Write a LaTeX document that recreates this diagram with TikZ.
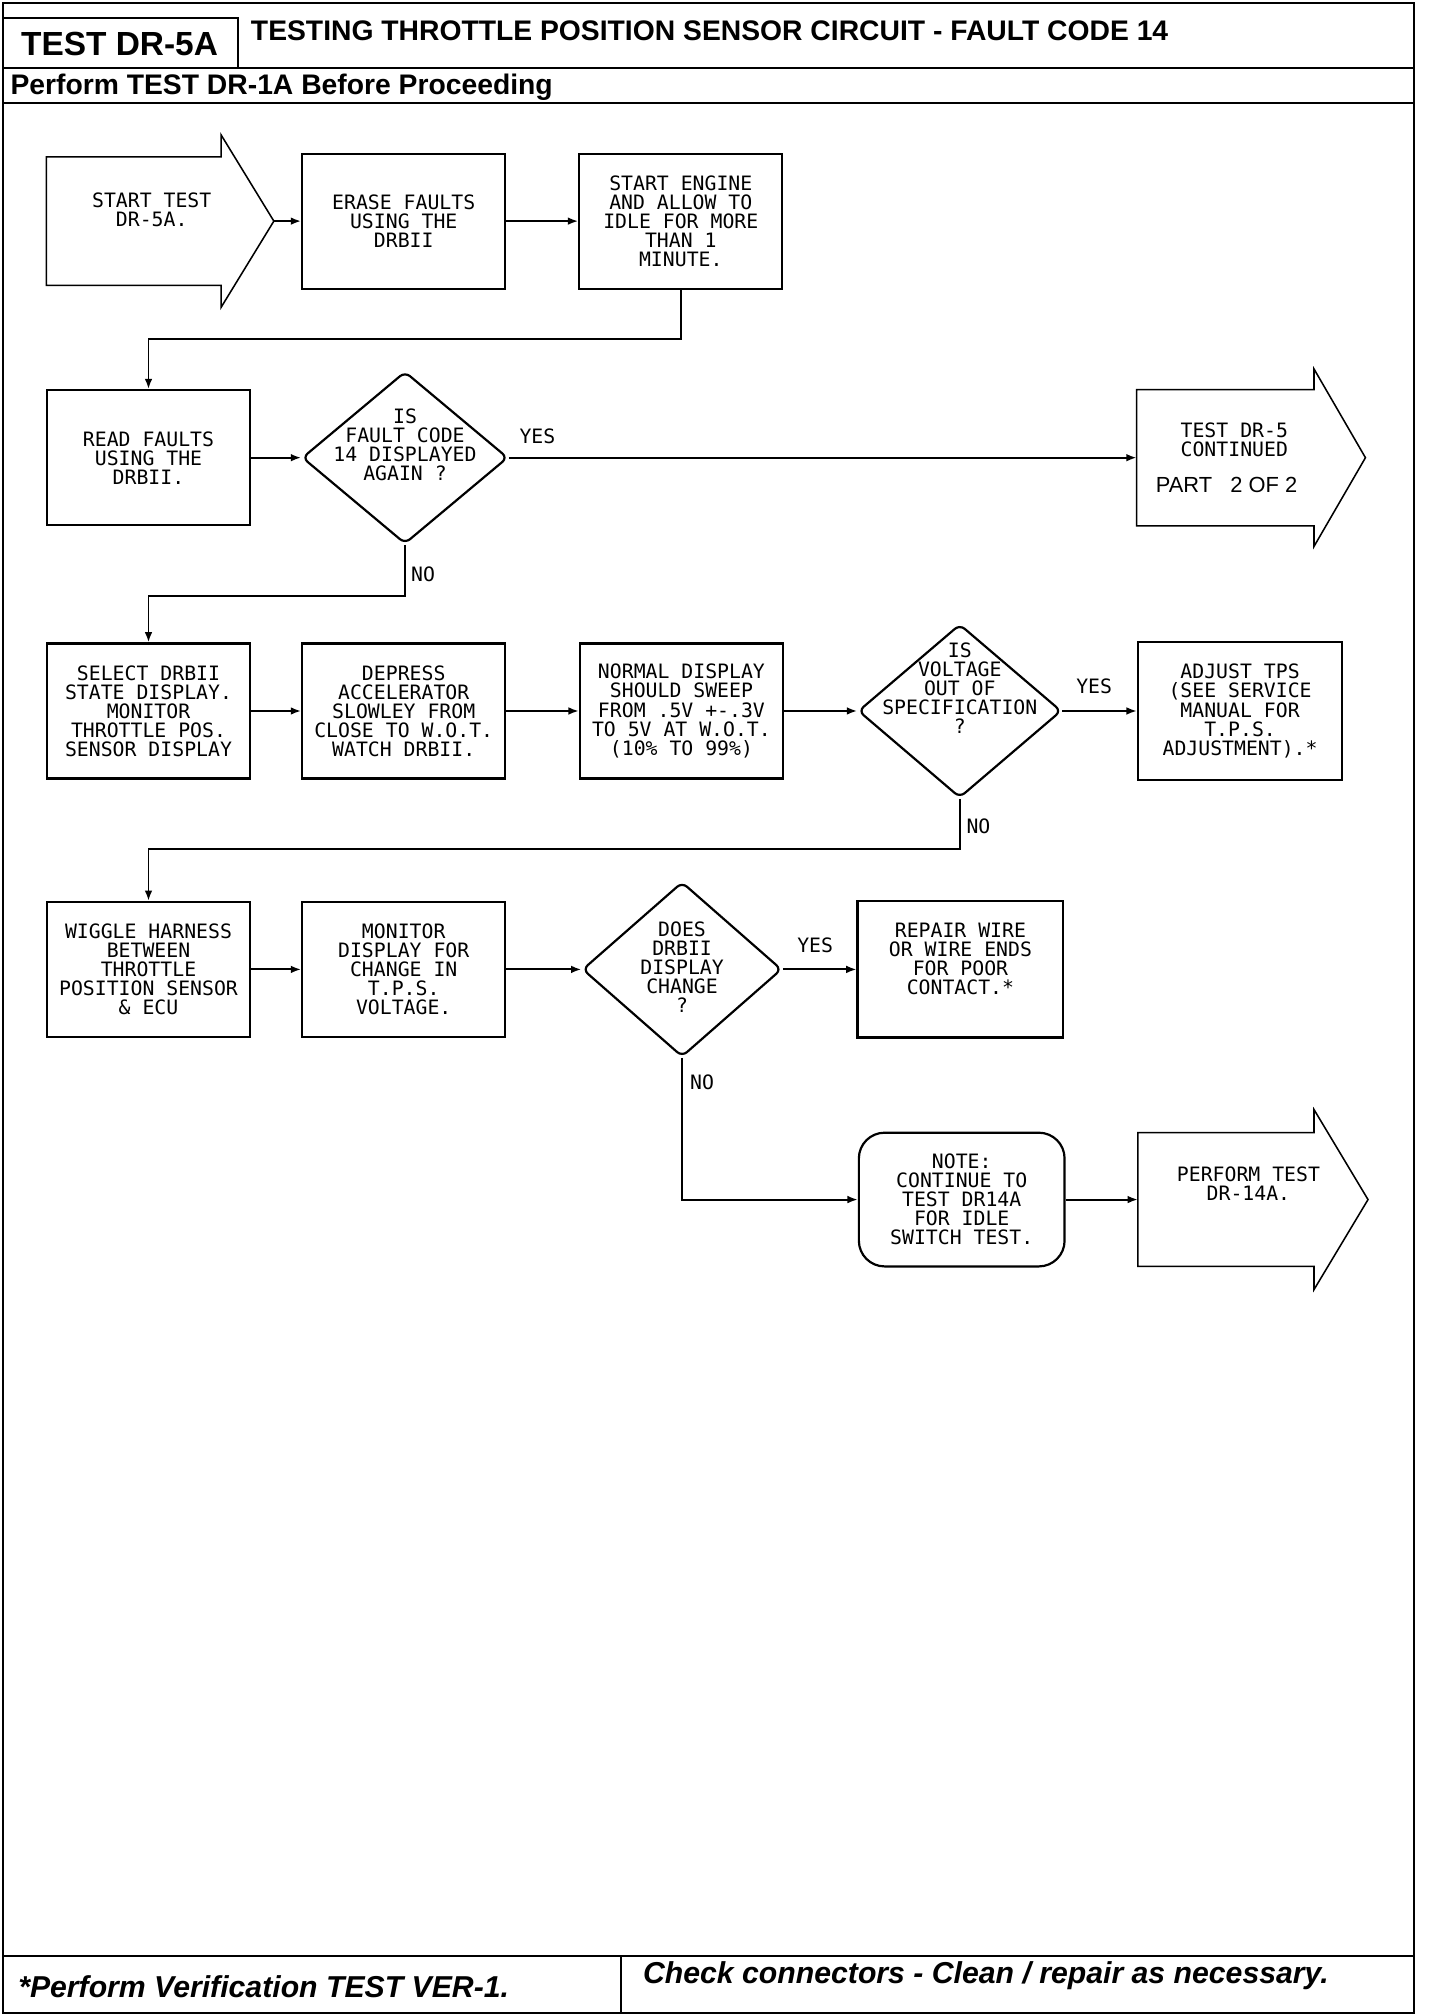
\documentclass[tikz,border=0pt]{standalone}
\usepackage{fontspec}
\usepackage{tikz}
\usetikzlibrary{shapes.geometric,arrows.meta}
\newfontfamily\plotfont{DejaVu Sans Mono}
\newfontfamily\headfont{Liberation Sans}

\tikzset{
  plottext/.style={align=center, inner sep=0pt, font=\plotfont\fontsize{15.4}{14.8}\selectfont},
  proc/.style={plottext, draw, line width=1.7pt, minimum width=158pt, minimum height=105pt},
  decision/.style={draw, diamond, line width=1.7pt, rounded corners=5pt, inner sep=0pt},
  shapeline/.style={line width=1.2pt, line join=miter},
  flow/.style={line width=1.5pt, ->},
  frameline/.style={line width=1.5pt},
}

\begin{document}
\begin{tikzpicture}[x=1pt, y=1pt, >={Latex[length=8pt,width=6pt]}]
  \useasboundingbox (0,0) rectangle (1120,1568);

  % frame, header and footer
  \draw[frameline] (2,2) rectangle (1100,1566);
  \draw[frameline] (2,1554) -| (185,1515);
  \draw[frameline] (2,1515) -- (1100,1515);
  \draw[frameline] (2,1488) -- (1100,1488);
  \draw[frameline] (2,47) -- (1100,47);
  \draw[frameline] (483,47) -- (483,2);
  \node[font=\headfont\bfseries\fontsize{26}{30}\selectfont] (testid) at (93,1534) {TEST DR-5A};
  \node[anchor=west, inner sep=0pt, font=\headfont\bfseries\fontsize{22}{26}\selectfont] (title) at (195,1544) {TESTING THROTTLE POSITION SENSOR CIRCUIT - FAULT CODE 14};
  \node[anchor=west, inner sep=0pt, font=\headfont\bfseries\fontsize{22}{26}\selectfont] (prereq) at (8,1500) {Perform TEST DR-1A Before Proceeding};
  \node[anchor=west, inner sep=0pt, font=\headfont\bfseries\itshape\fontsize{23.5}{27}\selectfont] (verify) at (14,23) {*Perform Verification TEST VER-1.};
  \node[anchor=west, inner sep=0pt, font=\headfont\bfseries\itshape\fontsize{23.5}{27}\selectfont] (check) at (500,31) {Check connectors - Clean / repair as necessary.};

  % row 1
  \coordinate (starttip) at (213,1396);
  \draw[shapeline] (36,1446) -- (172,1446) -- (172,1463) -- (starttip) -- (172,1329) -- (172,1346) -- (36,1346) -- cycle;
  \node[plottext] (start) at (118,1405) {START TEST\\DR-5A.};
  \node[proc] (erase) at (314,1396) {ERASE FAULTS\\USING THE\\DRBII};
  \node[proc] (engine) at (529.5,1396) {START ENGINE\\AND ALLOW TO\\IDLE FOR MORE\\THAN 1\\MINUTE.};

  % row 2
  \node[proc] (read) at (115.5,1212) {READ FAULTS\\USING THE\\DRBII.};
  \node[decision, minimum width=160pt, minimum height=134pt] (fault) at (315,1212) {};
  \node[plottext] (faulttext) at (315,1222) {IS\\FAULT CODE\\14 DISPLAYED\\AGAIN ?};
  \coordinate (dr5in) at (884,1212);
  \draw[shapeline] (dr5in) -- (884,1265) -- (1022,1265) -- (1022,1281) -- (1062,1212) -- (1022,1143) -- (1022,1159) -- (884,1159) -- cycle;
  \node[plottext] (dr5text) at (960,1226) {TEST DR-5\\CONTINUED};
  \node[inner sep=0pt, font=\headfont\fontsize{17}{20}\selectfont] (dr5part) at (954,1191) {PART~~~2 OF 2};
  \node[plottext] (yes1) at (418,1229) {YES};
  \node[plottext] (no1) at (329,1121) {NO};

  % row 3
  \node[proc] (select) at (115.5,1015) {SELECT DRBII\\STATE DISPLAY.\\MONITOR\\THROTTLE POS.\\SENSOR DISPLAY};
  \node[proc] (depress) at (314,1015) {DEPRESS\\ACCELERATOR\\SLOWLEY FROM\\CLOSE TO W.O.T.\\WATCH DRBII.};
  \node[proc] (normal) at (530,1015) {NORMAL DISPLAY\\SHOULD SWEEP\\FROM .5V +-.3V\\TO 5V AT W.O.T.\\(10\% TO 99\%)};
  \node[decision, minimum width=158pt, minimum height=135pt] (volt) at (746.5,1015) {};
  \node[plottext] (volttext) at (746.5,1033) {IS\\VOLTAGE\\OUT OF\\SPECIFICATION\\?};
  \node[proc, minimum width=159pt, minimum height=107pt] (adjust) at (964.5,1015) {ADJUST TPS\\(SEE SERVICE\\MANUAL FOR\\T.P.S.\\ADJUSTMENT).*};
  \node[plottext] (yes2) at (851,1034) {YES};
  \node[plottext] (no2) at (761,925) {NO};

  % row 4
  \node[proc] (wiggle) at (115.5,814) {WIGGLE HARNESS\\BETWEEN\\THROTTLE\\POSITION SENSOR\\\& ECU};
  \node[proc] (monitor) at (314,814) {MONITOR\\DISPLAY FOR\\CHANGE IN\\T.P.S.\\VOLTAGE.};
  \node[decision, minimum width=155pt, minimum height=136pt] (change) at (530.5,814) {};
  \node[plottext] (changetext) at (530.5,816) {DOES\\DRBII\\DISPLAY\\CHANGE\\?};
  \node[proc, minimum width=160pt, minimum height=106pt] (repair) at (747,814) {};
  \node[plottext] (repairtext) at (747,822) {REPAIR WIRE\\OR WIRE ENDS\\FOR POOR\\CONTACT.*};
  \node[plottext] (yes3) at (634,833) {YES};
  \node[plottext] (no3) at (546,726) {NO};

  % row 5
  \node[proc, rounded corners=20pt, minimum width=160pt, minimum height=104pt] (note) at (748,635) {NOTE:\\CONTINUE TO\\TEST DR14A\\FOR IDLE\\SWITCH TEST.};
  \coordinate (perfin) at (885,635);
  \draw[shapeline] (perfin) -- (885,687) -- (1022,687) -- (1022,705) -- (1064,635) -- (1022,565) -- (1022,583) -- (885,583) -- cycle;
  \node[plottext] (perftext) at (971,647) {PERFORM TEST\\DR-14A.};

  % connectors
  \draw[flow] (starttip) -- (erase);
  \draw[flow] (erase) -- (engine);
  \draw[flow] (engine.south) -- ++(0,-38) -| (read.north);
  \draw[flow] (read) -- (fault);
  \draw[flow] (fault) -- (dr5in);
  \draw[flow] (fault.south) -- ++(0,-40) -| (select.north);
  \draw[flow] (select) -- (depress);
  \draw[flow] (depress) -- (normal);
  \draw[flow] (normal) -- (volt);
  \draw[flow] (volt) -- (adjust);
  \draw[flow] (volt.south) -- ++(0,-39) -| (wiggle.north);
  \draw[flow] (wiggle) -- (monitor);
  \draw[flow] (monitor) -- (change);
  \draw[flow] (change) -- (repair);
  \draw[flow] (change.south) |- (note.west);
  \draw[flow] (note) -- (perfin);
\end{tikzpicture}
\end{document}
